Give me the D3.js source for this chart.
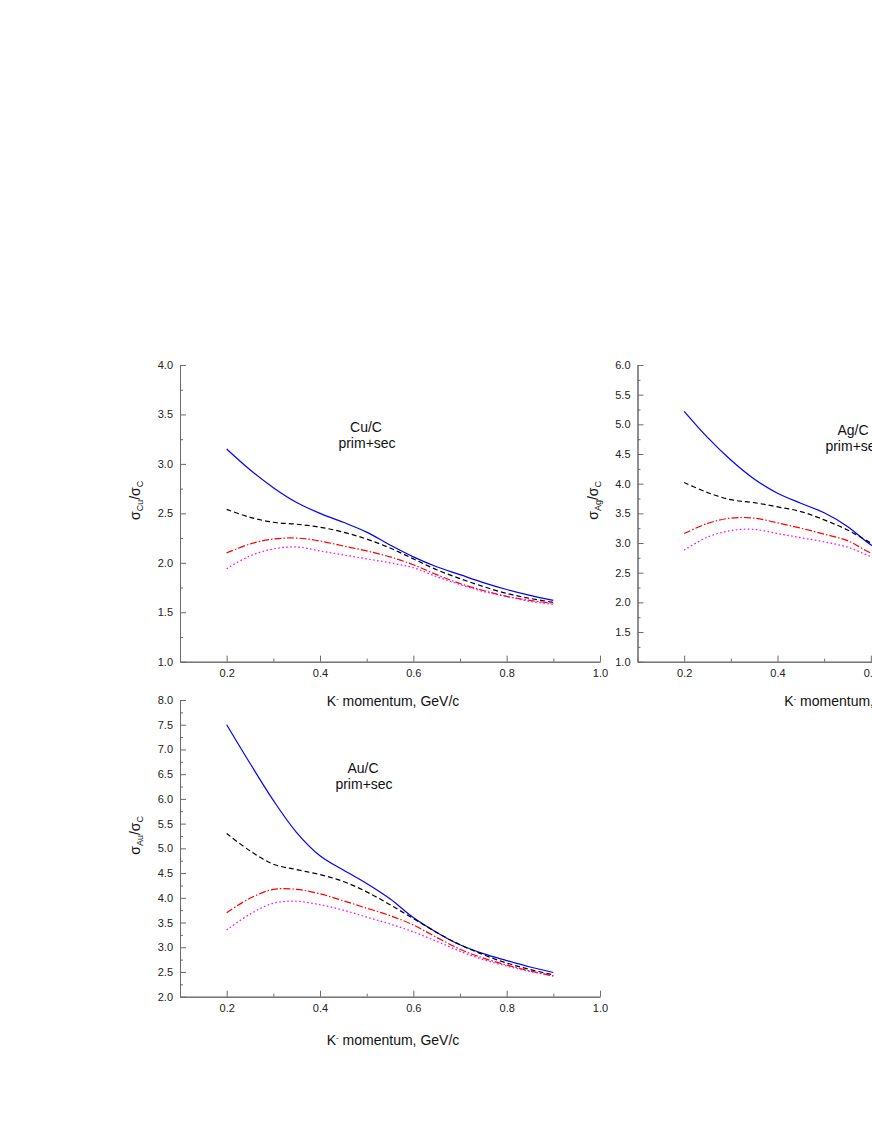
<!DOCTYPE html>
<html>
<head>
<meta charset="utf-8">
<script src="https://cdn.jsdelivr.net/npm/d3@7"></script>
<style>
  body { margin: 0; background: #fff; }
  svg { display: block; font-family: "Liberation Sans", Arial, sans-serif; }
  .axis path, .axis line { stroke: #6b6b6b; }
  .axis text { fill: #222; font-size: 11px; font-family: "Liberation Sans", Arial, sans-serif; }
</style>
</head>
<body>
<div id="chart"></div>
<script>
// K- momentum grid, GeV/c
var momentum = [0.2, 0.25, 0.3, 0.35, 0.4, 0.45, 0.5, 0.55, 0.6, 0.65, 0.7, 0.75, 0.8, 0.85, 0.9];

// Cu/C
var cuSolid   = [3.15, 2.94, 2.76, 2.61, 2.50, 2.41, 2.31, 2.18, 2.06, 1.96, 1.88, 1.80, 1.73, 1.67, 1.62];
var cuDashed  = [2.54, 2.46, 2.41, 2.39, 2.36, 2.31, 2.24, 2.15, 2.04, 1.93, 1.84, 1.76, 1.69, 1.64, 1.60];
var cuDashDot = [2.10, 2.19, 2.24, 2.25, 2.22, 2.17, 2.12, 2.06, 1.98, 1.88, 1.79, 1.72, 1.66, 1.62, 1.59];
var cuDotted  = [1.94, 2.07, 2.14, 2.16, 2.12, 2.08, 2.04, 2.00, 1.95, 1.86, 1.78, 1.71, 1.66, 1.61, 1.58];

// Ag/C
var agSolid   = [5.22, 4.78, 4.40, 4.08, 3.84, 3.67, 3.51, 3.28, 2.97, 2.78, 2.62, 2.49, 2.38, 2.29, 2.22];
var agDashed  = [4.02, 3.85, 3.73, 3.68, 3.61, 3.53, 3.39, 3.22, 3.00, 2.78, 2.60, 2.45, 2.33, 2.25, 2.18];
var agDashDot = [3.16, 3.33, 3.42, 3.42, 3.34, 3.25, 3.15, 3.04, 2.83, 2.66, 2.52, 2.40, 2.30, 2.22, 2.16];
var agDotted  = [2.88, 3.10, 3.21, 3.23, 3.16, 3.09, 3.02, 2.93, 2.77, 2.62, 2.49, 2.37, 2.28, 2.21, 2.15];

// Au/C
var auSolid   = [7.50, 6.72, 5.97, 5.32, 4.85, 4.56, 4.29, 3.98, 3.60, 3.30, 3.05, 2.87, 2.73, 2.60, 2.49];
var auDashed  = [5.30, 4.95, 4.68, 4.57, 4.47, 4.33, 4.12, 3.86, 3.58, 3.30, 3.05, 2.85, 2.68, 2.55, 2.44];
var auDashDot = [3.70, 3.99, 4.17, 4.17, 4.08, 3.94, 3.79, 3.64, 3.45, 3.20, 2.96, 2.78, 2.64, 2.52, 2.42];
var auDotted  = [3.35, 3.67, 3.89, 3.93, 3.86, 3.75, 3.61, 3.47, 3.31, 3.12, 2.92, 2.75, 2.62, 2.51, 2.42];

// axis ranges and tick labels
var xDomain = [0.1, 1.0];
var xTicks = [0.2, 0.4, 0.6, 0.8, 1.0];
var xMinor = [0.1, 0.3, 0.5, 0.7, 0.9];
var cuDomain = [1.0, 4.0];
var agDomain = [1.0, 6.0];
var auDomain = [2.0, 8.0];

var lineStyles = [
  {color: "#0000ff", dash: null},
  {color: "#000000", dash: "5,3"},
  {color: "#ff0000", dash: "7,2,1.5,2"},
  {color: "#ff00ff", dash: "1.6,2.4"}
];

var panels = [
  {name: "Cu/C", sub: "Cu", domain: cuDomain, series: [cuSolid, cuDashed, cuDashDot, cuDotted],
   left: 180, top: 365, w: 420, h: 296.7, noteX: 366, noteY: 432, labelOff: 44},
  {name: "Ag/C", sub: "Ag", domain: agDomain, series: [agSolid, agDashed, agDashDot, agDotted],
   left: 637.5, top: 365, w: 420, h: 296.7, noteX: 853, noteY: 435, labelOff: 44},
  {name: "Au/C", sub: "Au", domain: auDomain, series: [auSolid, auDashed, auDashDot, auDotted],
   left: 180, top: 700, w: 420, h: 296.7, noteX: 363, noteY: 773, labelOff: 48}
];

var svg = d3.select("#chart").append("svg")
  .attr("width", 872)
  .attr("height", 1128);

panels.forEach(function(p) {
  var g = svg.append("g")
    .attr("transform", "translate(" + p.left + "," + p.top + ")");

  var x = d3.scaleLinear().domain(xDomain).range([0, p.w]);
  var y = d3.scaleLinear().domain(p.domain).range([p.h, 0]);

  var yMajor = d3.range(p.domain[0], p.domain[1] + 0.001, 0.5);
  var yMinor = d3.range(p.domain[0] + 0.25, p.domain[1], 0.5);

  // minor ticks first
  g.append("g").attr("class", "axis")
    .call(d3.axisLeft(y).tickValues(yMinor).tickSize(-3).tickSizeOuter(0).tickFormat(""));
  g.append("g").attr("class", "axis")
    .attr("transform", "translate(0," + p.h + ")")
    .call(d3.axisBottom(x).tickValues(xMinor).tickSize(-3).tickSizeOuter(0).tickFormat(""));

  g.append("g").attr("class", "axis")
    .call(d3.axisLeft(y).tickValues(yMajor).tickSize(-6).tickSizeOuter(0)
      .tickPadding(7).tickFormat(d3.format(".1f")));
  g.append("g").attr("class", "axis")
    .attr("transform", "translate(0," + p.h + ")")
    .call(d3.axisBottom(x).tickValues(xTicks).tickSize(-6).tickSizeOuter(0)
      .tickPadding(8).tickFormat(d3.format(".1f")));

  var line = d3.line()
    .x(function(d, i) { return x(momentum[i]); })
    .y(function(d) { return y(d); })
    .curve(d3.curveCatmullRom.alpha(0.5));

  p.series.forEach(function(s, i) {
    g.append("path")
      .datum(s)
      .attr("d", line)
      .attr("fill", "none")
      .attr("stroke", lineStyles[i].color)
      .attr("stroke-width", 1.2)
      .attr("stroke-dasharray", lineStyles[i].dash);
  });

  // note
  svg.append("text")
    .attr("x", p.noteX).attr("y", p.noteY)
    .attr("text-anchor", "middle")
    .style("font-size", "14px").style("fill", "#111")
    .text(p.name);
  svg.append("text")
    .attr("x", p.noteX + 1).attr("y", p.noteY + 16)
    .attr("text-anchor", "middle")
    .style("font-size", "14px").style("fill", "#111")
    .text("prim+sec");

  // x label
  var xl = g.append("text")
    .attr("x", p.w / 2 + 3).attr("y", p.h + p.labelOff)
    .attr("text-anchor", "middle")
    .style("font-size", "14px").style("fill", "#111");
  xl.append("tspan").text("K");
  xl.append("tspan").attr("dy", -5).style("font-size", "8px").text("-");
  xl.append("tspan").attr("dy", 5).text(" momentum, GeV/c");

  // y label
  var yl = g.append("text")
    .attr("transform", "translate(-40," + (p.h / 2 - 13) + ") rotate(-90)")
    .attr("text-anchor", "middle")
    .style("font-size", "14px").style("fill", "#111");
  yl.append("tspan").text("σ");
  yl.append("tspan").attr("dy", 3).style("font-size", "9px").text(p.sub);
  yl.append("tspan").attr("dy", -3).text("/σ");
  yl.append("tspan").attr("dy", 3).style("font-size", "9px").text("C");
});
</script>
</body>
</html>
